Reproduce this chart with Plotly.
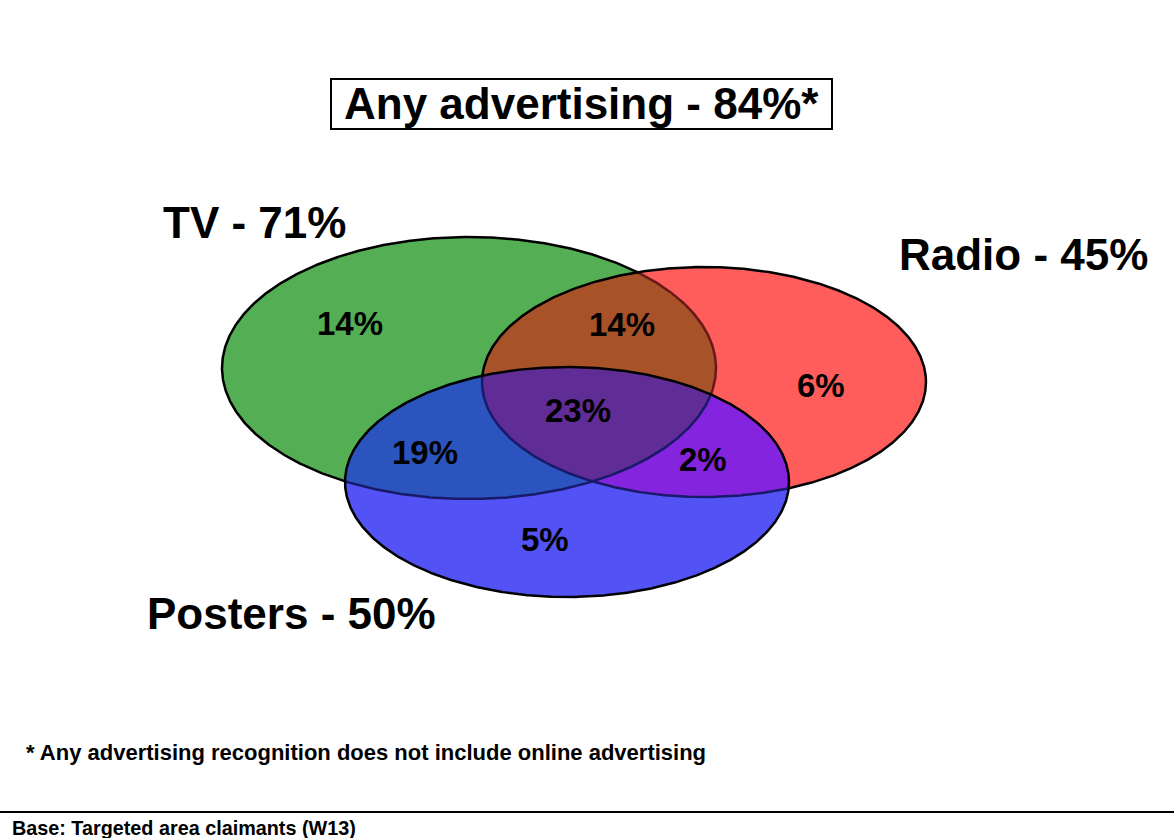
import numpy as np
import plotly.graph_objects as go

# ---- data -------------------------------------------------------------
channels = ["TV", "Radio", "Posters"]
channel_share = [71, 45, 50]
any_advertising = 84

# exclusive / overlap regions of the Venn diagram
region_names = ["TV only", "TV + Radio", "Radio only", "All three",
                "TV + Posters", "Radio + Posters", "Posters only"]
region_share = [14, 14, 6, 23, 19, 2, 5]

footnote = "* Any advertising recognition does not include online advertising"
base_note = "Base: Targeted area claimants (W13)"

# ---- layout geometry (pixel space, y grows downward) ------------------
W, H = 1174, 838
ellipses = {                      # cx, cy, rx, ry
    "TV": (469, 368, 247, 131),
    "Radio": (704, 382, 222, 115),
    "Posters": (567, 482, 222, 115),
}
region_pos = [(350, 323), (622, 324), (821, 385), (578, 410),
              (425, 452), (703, 459), (545, 539)]
channel_pos = [(254, 222), (1023, 254), (291, 613)]

colors = {
    "TV": "rgb(84,174,84)",
    "Radio": "rgb(255,92,92)",
    "Posters": "rgb(82,82,245)",
    ("TV", "Radio"): "rgb(168,82,42)",
    ("TV", "Posters"): "rgb(44,84,190)",
    ("Radio", "Posters"): "rgb(132,36,222)",
    ("TV", "Radio", "Posters"): "rgb(96,44,150)",
}

t = np.linspace(0, 2 * np.pi, 1441)


def boundary(name):
    cx, cy, rx, ry = ellipses[name]
    return cx + rx * np.cos(t), cy + ry * np.sin(t)


def inside(name, x, y):
    cx, cy, rx, ry = ellipses[name]
    return ((x - cx) / rx) ** 2 + ((y - cy) / ry) ** 2 <= 1.0


def intersection(names):
    xs, ys = [], []
    for n in names:
        bx, by = boundary(n)
        m = np.ones_like(bx, dtype=bool)
        for o in names:
            if o != n:
                m &= inside(o, bx, by)
        xs.append(bx[m])
        ys.append(by[m])
    x = np.concatenate(xs)
    y = np.concatenate(ys)
    ang = np.arctan2(y - y.mean(), x - x.mean())
    order = np.argsort(ang)
    x, y = x[order], y[order]
    return np.append(x, x[0]), np.append(y, y[0])


fig = go.Figure()

# solid ellipse fills
for n in ["TV", "Radio", "Posters"]:
    bx, by = boundary(n)
    fig.add_trace(go.Scatter(x=bx, y=by, mode="lines", fill="toself",
                             fillcolor=colors[n], line=dict(width=0),
                             hoverinfo="skip", showlegend=False))

# overlap fills
for key in [("TV", "Radio"), ("TV", "Posters"), ("Radio", "Posters"),
            ("TV", "Radio", "Posters")]:
    ix, iy = intersection(key)
    fig.add_trace(go.Scatter(x=ix, y=iy, mode="lines", fill="toself",
                             fillcolor=colors[key], line=dict(width=0),
                             hoverinfo="skip", showlegend=False))

# outlines, tinted where they run beneath a later-drawn ellipse
later = {"TV": ["Radio", "Posters"], "Radio": ["Posters"], "Posters": []}
for n in ["TV", "Radio", "Posters"]:
    bx, by = boundary(n)
    inR = inside("Radio", bx, by) if "Radio" in later[n] else np.zeros_like(bx, bool)
    inB = inside("Posters", bx, by) if "Posters" in later[n] else np.zeros_like(bx, bool)
    cats = [
        (~inR & ~inB, "black"),
        (inR & ~inB, "rgb(105,25,25)"),
        (inB, "rgb(25,25,105)"),
    ]
    for mask, col in cats:
        if not mask.any():
            continue
        yy = np.where(mask, by, np.nan)
        fig.add_trace(go.Scatter(x=bx, y=yy, mode="lines",
                                 line=dict(color=col, width=2.5),
                                 connectgaps=False,
                                 hoverinfo="skip", showlegend=False))

FONT = "Liberation Sans, Arial, sans-serif"
annotations = []

# region percentages
for (x, y), v in zip(region_pos, region_share):
    annotations.append(dict(x=x, y=y, text=f"<b>{v}%</b>", showarrow=False,
                            font=dict(family=FONT, size=33, color="black"),
                            xanchor="center", yanchor="middle"))

# channel labels
for (x, y), name, v in zip(channel_pos, channels, channel_share):
    annotations.append(dict(x=x, y=y, text=f"<b>{name} - {v}%</b>", showarrow=False,
                            font=dict(family=FONT, size=44, color="black"),
                            xanchor="center", yanchor="middle"))

# boxed headline
annotations.append(dict(x=581, y=103, text=f"<b>Any advertising - {any_advertising}%*</b>",
                        showarrow=False, font=dict(family=FONT, size=44, color="black"),
                        xanchor="center", yanchor="middle"))

annotations.append(dict(x=24, y=752, text=f"<b>{footnote}</b>", showarrow=False,
                        font=dict(family=FONT, size=22, color="black"),
                        xanchor="left", yanchor="middle"))
annotations.append(dict(x=10, y=828, text=f"<b>{base_note}</b>", showarrow=False,
                        font=dict(family=FONT, size=19.8, color="black"),
                        xanchor="left", yanchor="middle"))

shapes = [
    dict(type="rect", xref="x", yref="y", x0=331, x1=832, y0=79, y1=129,
         line=dict(color="black", width=2), fillcolor="rgba(0,0,0,0)"),
    dict(type="line", xref="x", yref="y", x0=0, x1=W, y0=812, y1=812,
         line=dict(color="black", width=2)),
]

fig.update_layout(
    width=W, height=H,
    margin=dict(l=0, r=0, t=0, b=0),
    paper_bgcolor="white", plot_bgcolor="white",
    xaxis=dict(range=[0, W], visible=False, fixedrange=True),
    yaxis=dict(range=[H, 0], visible=False, fixedrange=True),
    annotations=annotations,
    shapes=shapes,
    showlegend=False,
)

fig.write_html("out.html", config={"displayModeBar": False})
